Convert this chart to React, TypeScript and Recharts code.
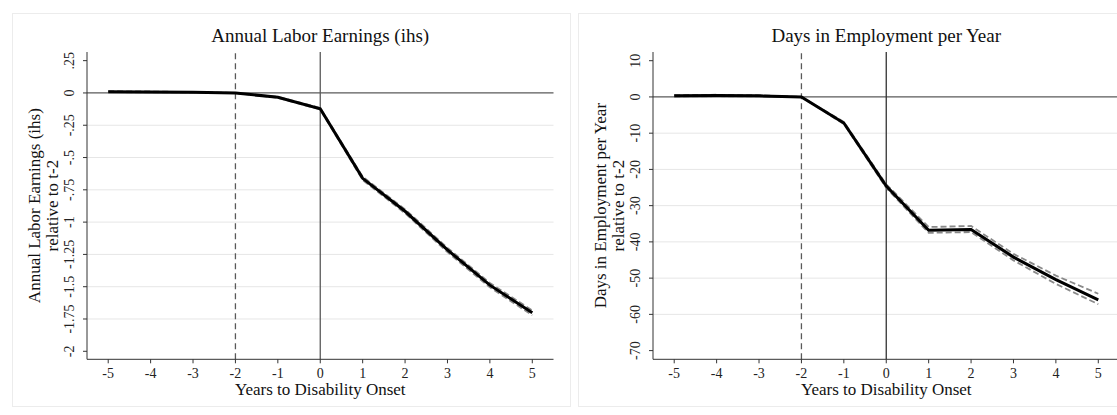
import React from "react";
import {
  LineChart,
  Line,
  XAxis,
  YAxis,
  ReferenceLine,
} from "recharts";

const FONT = '"Liberation Serif", "Times New Roman", serif';

// years relative to disability onset
const years = [-5, -4, -3, -2, -1, 0, 1, 2, 3, 4, 5];

// Annual labor earnings (ihs), relative to t-2
const earningsMean = [0.01, 0.008, 0.005, 0, -0.034, -0.122, -0.661, -0.916, -1.215, -1.488, -1.702];
const earningsLo = [0.006, 0.005, 0.003, 0, -0.038, -0.128, -0.674, -0.931, -1.232, -1.505, -1.721];
const earningsHi = [0.014, 0.011, 0.007, 0, -0.03, -0.116, -0.648, -0.901, -1.199, -1.471, -1.684];

// Days in employment per year, relative to t-2
const daysMean = [0.3, 0.4, 0.3, 0, -7.2, -24.6, -36.8, -36.6, -44.2, -50.4, -56.0];
const daysLo = [0.1, 0.2, 0.15, 0, -7.5, -25.1, -37.5, -37.3, -45.1, -51.6, -57.2];
const daysHi = [0.5, 0.6, 0.45, 0, -6.9, -24.1, -35.9, -35.6, -43.3, -49.3, -54.3];

const earningsTicks = [0.25, 0, -0.25, -0.5, -0.75, -1, -1.25, -1.5, -1.75, -2];
const earningsTickLabels = [".25", "0", "-.25", "-.5", "-.75", "-1", "-1.25", "-1.5", "-1.75", "-2"];
const daysTicks = [10, 0, -10, -20, -30, -40, -50, -60, -70];
const daysTickLabels = ["10", "0", "-10", "-20", "-30", "-40", "-50", "-60", "-70"];

const W = 566;
const H = 415;
const PLOT_LEFT = 87;
const PLOT_RIGHT_MARGIN = 12.5;
const PLOT_TOP = 52;
const X_AXIS_H = 55.7;
const PLOT_CX = PLOT_LEFT + (W - PLOT_LEFT - PLOT_RIGHT_MARGIN) / 2;
const PLOT_CY = PLOT_TOP + (H - PLOT_TOP - X_AXIS_H) / 2;

interface PanelProps {
  title: string;
  yTitle: string[];
  mean: number[];
  lo: number[];
  hi: number[];
  ticks: number[];
  tickLabels: string[];
  domain: [number, number];
  zeroStroke: string;
}

function Panel({ title, yTitle, mean, lo, hi, ticks, tickLabels, domain, zeroStroke }: PanelProps) {
  const data = years.map((t, i) => ({ t, mean: mean[i], lo: lo[i], hi: hi[i] }));
  const grid = ticks.slice(1, -1).filter((v) => v !== 0);

  const yTick = (p: any) => {
    const idx = ticks.indexOf(p.payload.value);
    return (
      <text
        x={p.x}
        y={p.y}
        transform={`rotate(-90 ${p.x} ${p.y})`}
        textAnchor="middle"
        dominantBaseline="central"
        fontSize={14}
        fontFamily={FONT}
        fill="#222"
      >
        {tickLabels[idx]}
      </text>
    );
  };

  return (
    <div style={{ position: "relative", width: W, height: H }}>
      <LineChart
        width={W}
        height={H}
        data={data}
        margin={{ top: PLOT_TOP, right: PLOT_RIGHT_MARGIN, left: 0, bottom: 0 }}
      >
        <XAxis
          dataKey="t"
          type="number"
          domain={[-5.5, 5.5]}
          ticks={years}
          interval={0}
          allowDataOverflow
          height={X_AXIS_H}
          tickSize={4}
          tickMargin={5}
          axisLine={{ stroke: "#333" }}
          tickLine={{ stroke: "#333" }}
          tick={{ fontSize: 14, fill: "#222", fontFamily: FONT }}
        />
        <YAxis
          type="number"
          domain={domain}
          ticks={ticks}
          interval={0}
          allowDataOverflow
          width={PLOT_LEFT}
          tickSize={4}
          tickMargin={13}
          axisLine={{ stroke: "#333" }}
          tickLine={{ stroke: "#333" }}
          tick={yTick}
        />
        {grid.map((v) => (
          <ReferenceLine key={v} y={v} stroke="#e6e6e6" strokeWidth={1} />
        ))}
        <ReferenceLine y={0} stroke="#5a5a5a" strokeWidth={1.3} />
        <ReferenceLine x={-2} stroke="#5a5a5a" strokeWidth={1.3} strokeDasharray="6 4" />
        <ReferenceLine x={0} stroke={zeroStroke} strokeWidth={1.3} />
        <Line
          dataKey="lo"
          stroke="#8a8a8a"
          strokeWidth={1.8}
          strokeDasharray="6 3"
          dot={false}
          isAnimationActive={false}
        />
        <Line
          dataKey="hi"
          stroke="#8a8a8a"
          strokeWidth={1.8}
          strokeDasharray="6 3"
          dot={false}
          isAnimationActive={false}
        />
        <Line
          dataKey="mean"
          stroke="#000"
          strokeWidth={3}
          dot={false}
          isAnimationActive={false}
        />
      </LineChart>
      <svg
        width={W}
        height={H}
        style={{ position: "absolute", left: 0, top: 0, pointerEvents: "none" }}
        fontFamily={FONT}
        fill="#111"
      >
        <text x={PLOT_CX} y={41.7} textAnchor="middle" fontSize={19}>
          {title}
        </text>
        <text x={PLOT_CX} y={395} textAnchor="middle" fontSize={17}>
          Years to Disability Onset
        </text>
        {yTitle.map((line, i) => (
          <text
            key={line}
            x={35 + i * 18}
            y={PLOT_CY}
            transform={`rotate(-90 ${35 + i * 18} ${PLOT_CY})`}
            textAnchor="middle"
            dominantBaseline="central"
            fontSize={17}
          >
            {line}
          </text>
        ))}
      </svg>
    </div>
  );
}

export default function App() {
  return (
    <div
      style={{
        position: "absolute",
        left: 0,
        top: 0,
        width: 1117,
        height: 415,
        overflow: "hidden",
        background: "#fff",
      }}
    >
      <div style={{ position: "absolute", left: 12, top: 13, width: 557, height: 392, border: "1px solid #ececec" }} />
      <div style={{ position: "absolute", left: 578, top: 13, width: 560, height: 392, border: "1px solid #ececec" }} />
      <div style={{ position: "absolute", left: 0, top: 0 }}>
        <Panel
          title="Annual Labor Earnings (ihs)"
          yTitle={["Annual Labor Earnings (ihs)", "relative to t-2"]}
          mean={earningsMean}
          lo={earningsLo}
          hi={earningsHi}
          ticks={earningsTicks}
          tickLabels={earningsTickLabels}
          domain={[-2.062, 0.317]}
          zeroStroke="#5a5a5a"
        />
      </div>
      <div style={{ position: "absolute", left: W, top: 0 }}>
        <Panel
          title="Days in Employment per Year"
          yTitle={["Days in Employment per Year", "relative to t-2"]}
          mean={daysMean}
          lo={daysLo}
          hi={daysHi}
          ticks={daysTicks}
          tickLabels={daysTickLabels}
          domain={[-72.4, 12.4]}
          zeroStroke="#333"
        />
      </div>
    </div>
  );
}
